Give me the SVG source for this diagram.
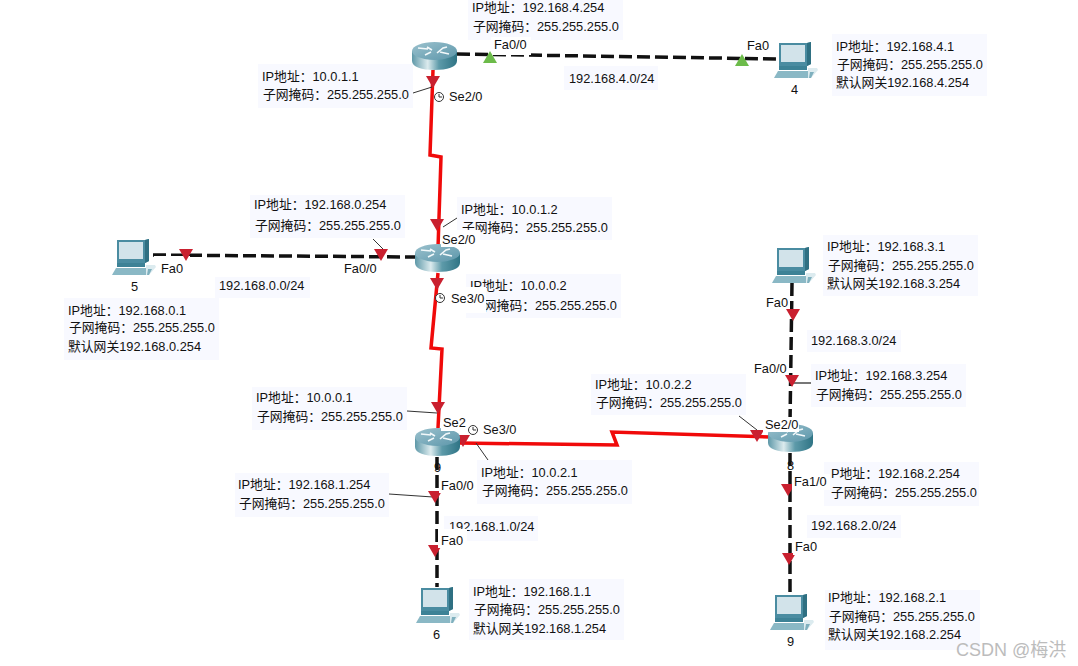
<svg xmlns="http://www.w3.org/2000/svg" width="1078" height="666" viewBox="0 0 1078 666">
<style>
text{font-family:"Liberation Sans","Noto Sans CJK SC",sans-serif;font-size:12.800px;fill:#111}
.box{fill:#f8f9ff}
.wb{fill:#fff}
.red{fill:none;stroke:#f00a0a;stroke-width:3.500}
.blk{fill:none;stroke:#111;stroke-width:3.500;stroke-dasharray:13 5}
.lead{fill:none;stroke:#333;stroke-width:1}
.wm{fill:#bcbcbc;font-size:18px}
</style>
<defs>
<linearGradient id="rg" x1="0" x2="1" y1="0" y2="0"><stop offset="0" stop-color="#5e98a8"/><stop offset=".35" stop-color="#dcebee"/><stop offset=".6" stop-color="#5d9aa9"/><stop offset="1" stop-color="#2f7485"/></linearGradient>
<linearGradient id="rt" x1="0" x2="1" y1="0" y2="1"><stop offset="0" stop-color="#9cc2ce"/><stop offset="1" stop-color="#5c96aa"/></linearGradient>
<g id="router">
<path d="M0 9V19C0 25 10 28 22.500 28S45 25 45 19V9Z" fill="url(#rg)"/>
<ellipse cx="22.500" cy="9" rx="22.500" ry="9" fill="url(#rt)"/>
<path d="M6 6l10 1M15 5l5 3M25 11l6-5l4-1M28 10l9 2M13 13l6-3" stroke="#f2f8fa" stroke-width="1.600" fill="none"/>
</g>
<g id="pc">
<path d="M5 1H33L37 0V22L33 24H5Z" fill="#4a8ca1"/>
<path d="M33 1L37 0V22L33 24Z" fill="#2f7082"/>
<path d="M7 3H31V20H7Z" fill="#d2e3ea"/>
<path d="M5 24H33V28H5Z" fill="#3d8296"/>
<path d="M4 29H34V36H0Z" fill="#8ab8c5"/>
<path d="M34 26h9l1 2l-7 8h-3Z" fill="#dcebef"/>
<path d="M36 30h4l-3 6h-2Z" fill="#7fb0be"/>
</g>
<path id="tr" d="M-7 -6H7L0 6Z" fill="#c9202f"/>
<path id="tg" d="M-7 6H7L0 -6Z" fill="#6cbb4a"/>
<g id="clk"><circle r="4.500" fill="#fff" stroke="#333"/><path d="M0 -3V0H3" fill="none" stroke="#333"/></g>
</defs>

<g id="connectors">
<path class="blk" d="M457 54L780 59"/>
<path class="red" d="M433 70L430 155L441 157L438 248"/>
<path class="blk" d="M153 255L416 257"/>
<path class="red" d="M438 273L431 348L442 349L438 428"/>
<path class="blk" d="M437 457V587"/>
<path class="red" d="M460 443L617 445L612 432L770 437"/>
<path class="blk" d="M792 283L790 423"/>
<path class="blk" d="M790 453V594"/>
<path class="lead" d="M413 93L432 87M457 218L443 227M373 239L384 250M407 411L437 413M389 494L433 497M476 443L488 460M739 416L757 430"/>
<path d="M793 383H811" fill="none" stroke="#777" stroke-width="2"/>
</g>

<g id="ports">
<rect class="wb" x="491" y="36" width="40" height="19"/>
<text x="747" y="50">Fa0</text>
<use href="#clk" x="439" y="97"/><text x="449" y="101">Se2/0</text>
<rect class="wb" x="154" y="256" width="36" height="21"/><text x="161" y="273">Fa0</text>
<rect class="wb" x="340" y="259" width="38" height="19"/><text x="344" y="273">Fa0/0</text>
<rect class="wb" x="764" y="296" width="26" height="15"/><text x="766" y="307">Fa0</text>
<text x="754" y="373">Fa0/0</text>
</g>

<g id="endpoints">
<use href="#tg" x="490" y="57"/><use href="#tg" x="742" y="60"/>
<use href="#tr" x="433" y="82"/><use href="#tr" x="437" y="225"/><use href="#tr" x="381" y="255"/><use href="#tr" x="186" y="255"/>
<use href="#tr" x="437" y="284"/><use href="#tr" x="438" y="408"/><use href="#tr" x="463" y="441"/><use href="#tr" x="435" y="497"/>
<use href="#tr" x="435" y="551"/><use href="#tr" x="792" y="381"/><use href="#tr" x="788" y="490"/><use href="#tr" x="793" y="315"/>
<use href="#tr" x="789" y="559"/><use href="#tr" x="757" y="436"/>
</g>

<g id="router-1"><use href="#router" x="412" y="42"/></g>
<g id="router-2"><use href="#router" x="415" y="244"/></g>
<g id="router-3"><use href="#router" x="415" y="428"/><text x="434" y="472">9</text></g>
<g id="router-8"><use href="#router" x="768" y="424"/><text x="787" y="470">8</text></g>
<g id="pc-4"><use href="#pc" x="774" y="42"/><text x="791" y="94">4</text></g>
<g id="pc-5"><use href="#pc" x="112" y="239"/><text x="131" y="291">5</text></g>
<g id="pc-7"><use href="#pc" x="772" y="247"/></g>
<g id="pc-6"><use href="#pc" x="416" y="587"/><text x="433" y="639">6</text></g>
<g id="pc-9"><use href="#pc" x="770" y="594"/><text x="787" y="646">9</text></g>

<g id="labels">
<rect class="box" x="468" y="0" width="155" height="40"/><text x="472" y="12">IP地址：192.168.4.254</text><text x="473" y="31">子网掩码：255.255.255.0</text>
<rect class="box" x="258" y="64" width="155" height="44"/><text x="262" y="81">IP地址：10.0.1.1</text><text x="263" y="99">子网掩码：255.255.255.0</text>
<rect class="box" x="564" y="66" width="94" height="24"/><text x="569" y="83">192.168.4.0/24</text>
<rect class="box" x="832" y="34" width="155" height="62"/><text x="836" y="51">IP地址：192.168.4.1</text><text x="837" y="69">子网掩码：255.255.255.0</text><text x="836" y="87">默认网关192.168.4.254</text>
<rect class="box" x="250" y="195" width="155" height="43"/><text x="254" y="209">IP地址：192.168.0.254</text><text x="255" y="230">子网掩码：255.255.255.0</text>
<rect class="box" x="457" y="197" width="155" height="43"/><text x="461" y="214">IP地址：10.0.1.2</text><text x="462" y="232">子网掩码：255.255.255.0</text>
<rect class="box" x="466" y="274" width="155" height="44"/><text x="470" y="290">IP地址：10.0.0.2</text><text x="471" y="310">子网掩码：255.255.255.0</text>
<rect class="box" x="215" y="277" width="95" height="21"/><text x="219" y="290">192.168.0.0/24</text>
<rect class="box" x="64" y="298" width="155" height="62"/><text x="68" y="315">IP地址：192.168.0.1</text><text x="69" y="332">子网掩码：255.255.255.0</text><text x="68" y="351">默认网关192.168.0.254</text>
<rect class="box" x="823" y="235" width="155" height="61"/><text x="827" y="251">IP地址：192.168.3.1</text><text x="828" y="270">子网掩码：255.255.255.0</text><text x="827" y="288">默认网关192.168.3.254</text>
<rect class="box" x="807" y="330" width="94" height="22"/><text x="811" y="345">192.168.3.0/24</text>
<rect class="box" x="811" y="364" width="155" height="43"/><text x="815" y="380">IP地址：192.168.3.254</text><text x="816" y="399">子网掩码：255.255.255.0</text>
<rect class="box" x="591" y="374" width="155" height="41"/><text x="595" y="389">IP地址：10.0.2.2</text><text x="596" y="407">子网掩码：255.255.255.0</text>
<rect class="box" x="252" y="387" width="155" height="43"/><text x="256" y="402">IP地址：10.0.0.1</text><text x="257" y="421">子网掩码：255.255.255.0</text>
<rect class="box" x="477" y="460" width="155" height="44"/><text x="481" y="477">IP地址：10.0.2.1</text><text x="482" y="495">子网掩码：255.255.255.0</text>
<rect class="box" x="235" y="473" width="154" height="44"/><text x="238" y="489">IP地址：192.168.1.254</text><text x="239" y="508">子网掩码：255.255.255.0</text>
<rect class="box" x="824" y="462" width="155" height="44"/><text x="831" y="478">P地址：192.168.2.254</text><text x="831" y="497">子网掩码：255.255.255.0</text>
<rect class="box" x="807" y="515" width="94" height="23"/><text x="811" y="530">192.168.2.0/24</text>
<rect class="box" x="444" y="516" width="94" height="25"/><text x="449" y="531">192.168.1.0/24</text>
<rect class="box" x="469" y="579" width="155" height="61"/><text x="473" y="596">IP地址：192.168.1.1</text><text x="474" y="614">子网掩码：255.255.255.0</text><text x="473" y="633">默认网关192.168.1.254</text>
<rect class="box" x="825" y="590" width="155" height="60"/><text x="828" y="602">IP地址：192.168.2.1</text><text x="829" y="621">子网掩码：255.255.255.0</text><text x="828" y="639">默认网关192.168.2.254</text>
</g>

<g id="ports-top">
<rect class="wb" x="491" y="37" width="40" height="14"/><text x="494" y="49">Fa0/0</text>
<rect class="wb" x="441" y="230" width="39" height="17"/><text x="442" y="244">Se2/0</text>
<rect class="wb" x="448" y="287" width="38" height="26"/><use href="#clk" x="440" y="298"/><text x="451" y="303">Se3/0</text>
<rect class="wb" x="441" y="415" width="26" height="16"/><text x="443" y="427">Se2</text>
<use href="#clk" x="473" y="430"/><text x="483" y="434">Se3/0</text>
<rect class="wb" x="439" y="477" width="36" height="16"/><text x="441" y="490">Fa0/0</text>
<rect class="wb" x="438" y="529" width="29" height="19"/><text x="441" y="545">Fa0</text>
<rect class="wb" x="763" y="417" width="36" height="15"/><text x="765" y="429">Se2/0</text>
<rect class="wb" x="792" y="474" width="38" height="16"/><text x="794" y="486">Fa1/0</text>
<rect class="wb" x="793" y="540" width="28" height="15"/><text x="795" y="551">Fa0</text>
</g>

<text class="wm" x="956" y="656">CSDN @梅洪</text>
</svg>
